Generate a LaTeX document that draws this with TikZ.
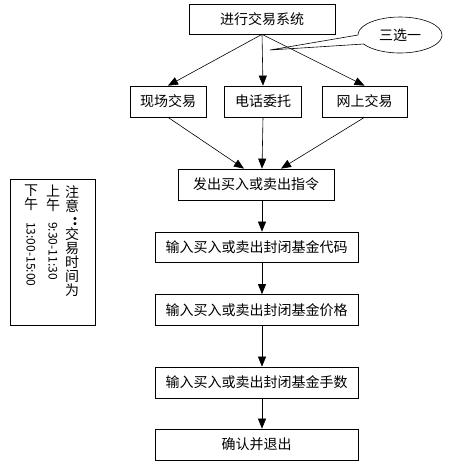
\documentclass[tikz,border=0pt]{standalone}
\usepackage{fontspec}
\newfontfamily\cjk{Noto Sans CJK SC}
\usetikzlibrary{arrows.meta,shapes.callouts,shapes.geometric}
\begin{document}
\begin{tikzpicture}[x=1pt,y=-1pt,
  box/.style={draw, line width=0.7pt, inner sep=0pt, minimum height=30pt,
    font=\cjk\fontsize{14}{14}\selectfont},
  link/.style={line width=0.6pt, -{Triangle[length=10pt,width=8pt]}},
  vtext/.style={inner sep=0pt, align=center, anchor=north,
    font=\cjk\fontsize{14}{14}\selectfont},
  rtext/.style={inner sep=0pt, rotate=-90, anchor=west,
    font=\cjk\fontsize{12}{12}\selectfont}]
\fill[white] (0,0) rectangle (448,469);
\useasboundingbox (0,0) rectangle (448,469);
% main boxes
\node[box, minimum width=146pt] (top) at (262,19) {进行交易系统};
\node[box, minimum width=76pt, minimum height=31pt] (b1) at (168,101.5) {现场交易};
\node[box, minimum width=77pt, minimum height=31pt] (b2) at (263,101.5) {电话委托};
\node[box, minimum width=85pt, minimum height=31pt] (b3) at (364.5,101.5) {网上交易};
\node[box, minimum width=156pt, minimum height=31pt] (b4) at (256,184.5) {发出买入或卖出指令};
\node[box, minimum width=203pt] (b5) at (256.5,247) {输入买入或卖出封闭基金代码};
\node[box, minimum width=203pt, minimum height=31pt] (b6) at (256.5,310) {输入买入或卖出封闭基金价格};
\node[box, minimum width=203pt, minimum height=31pt] (b7) at (256.5,382.5) {输入买入或卖出封闭基金手数};
\node[box, minimum width=203pt, minimum height=31pt] (b8) at (256.5,444.5) {确认并退出};
% callout
\coordinate (tip) at (270,50);
\node[ellipse callout, draw, line width=0.6pt, minimum width=84pt, minimum height=36pt,
  inner sep=0pt, callout absolute pointer={(tip)}, callout pointer arc=30,
  font=\cjk\fontsize{14}{14}\selectfont] (call) at (400,35) {三选一};
% connectors
\draw[link] (top.south) -- (b1.north);
\draw[link] (top.south) -- (b2.north);
\draw[link] (top.south) -- (b3.north);
\draw[link] (b1.south) -- ([xshift=-18pt]top.south |- b4.north);
\draw[link] (b2.south) -- (top.south |- b4.north);
\draw[link] (b3.south) -- ([xshift=19pt]top.south |- b4.north);
\draw[link] (b4.south -| top.south) -- (b5.north -| top.south);
\draw[link] (b5.south -| top.south) -- (b6.north -| top.south);
\draw[link] (b6.south -| top.south) -- (b7.north -| top.south);
\draw[link] (b7.south -| top.south) -- (b8.north -| top.south);
% note box
\node[draw, line width=0.7pt, minimum width=85pt, minimum height=146pt, inner sep=0pt] (note) at (52.5,252) {};
\node[vtext] (c1) at (72,185) {注\\意\\\hspace{6pt}\textbf{:}\\交\\易\\时\\间\\为};
\node[vtext] (c2) at (53,185) {上\\午};
\node[rtext] (d2) at (53,222) {9:30-11:30};
\node[vtext] (c3) at (31,185) {下\\午};
\node[rtext] (d3) at (31,222) {13:00-15:00};
\end{tikzpicture}
\end{document}
